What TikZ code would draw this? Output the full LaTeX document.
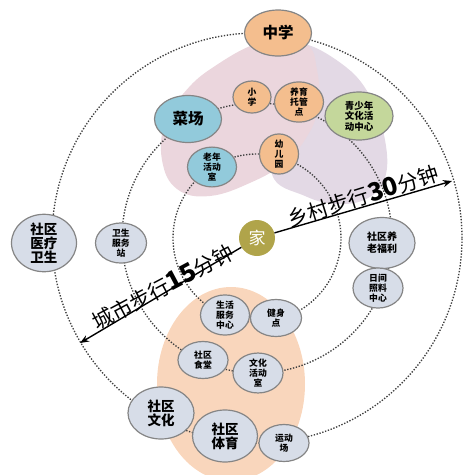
\documentclass[tikz,border=0pt]{standalone}
\usepackage{fontspec}
\setmainfont{Noto Sans CJK SC}
\usetikzlibrary{shapes.geometric,arrows.meta}
\definecolor{orangeN}{HTML}{F4BE8E}
\definecolor{blueN}{HTML}{92CADB}
\definecolor{greenN}{HTML}{C4D79B}
\definecolor{greyN}{HTML}{D7DDE8}
\definecolor{homeN}{HTML}{B0A44A}
\definecolor{lineN}{HTML}{858585}
\definecolor{pinkB}{HTML}{EBD6DD}
\definecolor{lavB}{HTML}{E3D9E5}
\definecolor{peachB}{HTML}{F9D6BC}
\definecolor{ringC}{HTML}{404040}
\tikzset{
  bub/.style={ellipse, draw=lineN, line width=1.2pt, inner sep=0pt, align=center,
    font=\bfseries\fontsize{8.8}{10}\selectfont},
  bigtxt/.style={font=\bfseries\fontsize{15.5}{16}\selectfont},
  midtxt/.style={font=\bfseries\fontsize{13.5}{14}\selectfont},
  ring/.style={draw=ringC, line width=1.35pt, dash pattern=on 1.35pt off 1.6pt},
  arr/.style={line width=1.4pt, -{Stealth[length=9pt,width=7pt]}},
  walktxt/.style={font=\fontsize{21}{22}\selectfont, inner sep=0pt},
}
\newcommand{\bignum}[1]{{\bfseries\fontsize{25}{25}\selectfont #1}}
\begin{document}
\begin{tikzpicture}[x=1pt,y=-1pt]
\useasboundingbox (0,0) rectangle (464,475);
% blobs
\fill[lavB] plot[smooth cycle, tension=0.7] coordinates {(300,44) (342,64) (370,96) (385,140) (385,178) (368,198) (338,204) (305,196) (272,174) (285,120) (290,70)};
\fill[pinkB] plot[smooth cycle, tension=0.7] coordinates {(262,42) (305,44) (317,70) (318,108) (306,138) (284,163) (252,182) (210,196) (177,189) (162,160) (165,122) (183,94) (212,68)};
\fill[peachB] (231,384) ellipse [x radius=74pt, y radius=97pt];
% home
\node[circle, fill=homeN, minimum size=36pt, inner sep=0pt, text=white,
  font=\fontsize{17}{17}\selectfont] (home) at (257,238) {家};
% rings
\draw[ring] (home.center) circle [radius=205pt];
\draw[ring] (home.center) circle [radius=135pt];
\draw[ring] (home.center) circle [radius=84pt];
% arrows
\coordinate (t30) at (452,181);
\coordinate (t15) at (80,343);
\draw[arr] (home) -- (t30);
\draw[arr] (home) -- (t15);
\node[walktxt, rotate=17.5] (lbl30) at (363,196) {乡村步行\bignum{30}分钟};
\node[walktxt, rotate=28] (lbl15) at (163,287) {城市步行\bignum{15}分钟};
% nodes
\node[bub, bigtxt, fill=orangeN, minimum width=67pt, minimum height=46pt] (zx) at (278,33) {中学};
\node[bub, bigtxt, fill=blueN, minimum width=67pt, minimum height=47pt] (cc) at (188,119) {菜场};
\node[bub, fill=orangeN, minimum width=38pt, minimum height=32pt] (xx) at (252,97) {小\\学};
\node[bub, fill=orangeN, minimum width=49pt, minimum height=31pt] (yy) at (299,102) {养育\\托管\\点};
\node[bub, fill=greenN, minimum width=68pt, minimum height=48pt, font=\bfseries\fontsize{9.5}{10.5}\selectfont] (qs) at (359,116) {青少年\\文化活\\动中心};
\node[bub, fill=orangeN, minimum width=39pt, minimum height=32pt] (ye) at (279,154) {幼\\儿\\园};
\node[bub, fill=blueN, minimum width=49pt, minimum height=32pt] (ln) at (212,167) {老年\\活动\\室};
\node[bub, midtxt, fill=greyN, minimum width=65pt, minimum height=53pt] (yl) at (44,243) {社区\\医疗\\卫生};
\node[bub, fill=greyN, minimum width=51pt, minimum height=37pt] (ws) at (121,243) {卫生\\服务\\站};
\node[bub, fill=greyN, minimum width=66pt, minimum height=51pt, font=\bfseries\fontsize{10}{12}\selectfont] (yf) at (382,243) {社区养\\老福利};
\node[bub, fill=greyN, minimum width=50pt, minimum height=36pt] (rj) at (378,288) {日间\\照料\\中心};
\node[bub, fill=greyN, minimum width=49pt, minimum height=35pt] (sh) at (225,315) {生活\\服务\\中心};
\node[bub, fill=greyN, minimum width=51pt, minimum height=37pt] (js) at (276,318) {健身\\点};
\node[bub, fill=greyN, minimum width=50pt, minimum height=37pt] (st) at (203,360) {社区\\食堂};
\node[bub, fill=greyN, minimum width=50pt, minimum height=37pt] (wh) at (258,373) {文化\\活动\\室};
\node[bub, midtxt, fill=greyN, minimum width=66pt, minimum height=52pt] (wenhua) at (161,413) {社区\\文化};
\node[bub, midtxt, fill=greyN, minimum width=65pt, minimum height=52pt] (ty) at (225,436) {社区\\体育};
\node[bub, fill=greyN, minimum width=50pt, minimum height=37pt] (yd) at (284,443) {运动\\场};
\end{tikzpicture}
\end{document}
